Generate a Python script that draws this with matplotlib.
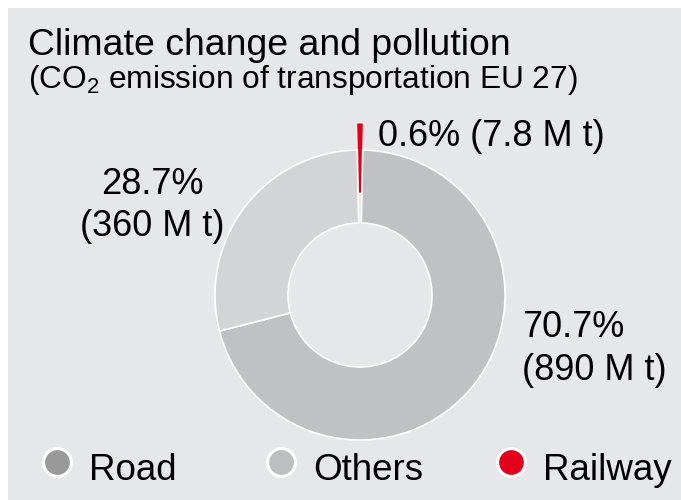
import matplotlib
matplotlib.use("Agg")
import matplotlib.pyplot as plt
from matplotlib.patches import Rectangle

plt.rcParams['font.family'] = ['Liberation Sans', 'DejaVu Sans']
plt.rcParams['mathtext.fontset'] = 'custom'
plt.rcParams['mathtext.rm'] = 'Liberation Sans'
plt.rcParams['mathtext.default'] = 'regular'

# -------------------------
# Data
# -------------------------
categories = ["Railway", "Road", "Others"]
shares = [0.6, 70.7, 28.7]            # percent
tonnes = ["7.8", "890", "360"]        # M t
wedge_colors = ["#e2001a", "#c0c1c3", "#d3d4d6"]
legend_order = ["Road", "Others", "Railway"]
legend_colors = {"Road": "#999999", "Others": "#bdbec0", "Railway": "#e2001a"}

W, H = 681, 500
fig = plt.figure(figsize=(W / 100, H / 100), dpi=100)
fig.patch.set_facecolor("white")

# axes in pixel units (y up)
ax = fig.add_axes([0, 0, 1, 1])

# -------------------------
# Donut
# -------------------------
cx, cy, r = 360, 205, 145
start = 90 + shares[0] / sum(shares) * 360 / 2
wedges, _ = ax.pie(shares, colors=wedge_colors, startangle=start, counterclock=False,
                   center=(cx, cy), radius=r, frame=True,
                   wedgeprops=dict(width=73, edgecolor="white", linewidth=1.2))
# railway slice sticks out of the ring
wedges[0].set_radius(172)
wedges[0].set_width(70)
wedges[0].set_linewidth(0.6)
ax.set_xlim(0, W)
ax.set_ylim(0, H)
ax.set_aspect("auto")
ax.axis("off")

# grey panel
ax.add_patch(Rectangle((8, 0), W - 8, H - 8, facecolor="#e6e7e8", edgecolor="none", zorder=0))

# -------------------------
# Texts
# -------------------------
ax.text(28, 445, "Climate change and pollution", fontsize=26.9, va="baseline", ha="left")
ax.text(28, 412, "(CO$_2$ emission of transportation EU 27)", fontsize=22.8, va="baseline", ha="left")

ax.text(378, 354, f"{shares[0]}% ({tonnes[0]} M t)", fontsize=26, va="baseline", ha="left")
ax.text(152, 306, f"{shares[2]}%", fontsize=26, va="baseline", ha="center")
ax.text(152, 264, f"({tonnes[2]} M t)", fontsize=26, va="baseline", ha="center")
ax.text(522, 163, f"{shares[1]}%", fontsize=26, va="baseline", ha="left")
ax.text(522, 120, f"({tonnes[1]} M t)", fontsize=26, va="baseline", ha="left")

# legend
leg_x = [57, 281, 511]
for name, lx in zip(legend_order, leg_x):
    ax.scatter([lx], [38], s=400, color=legend_colors[name], edgecolors="white", linewidths=2.2, zorder=3)
    ax.text(lx + 32, 20, name, fontsize=26.5, va="baseline", ha="left")

fig.savefig("out.png", dpi=100, facecolor=fig.get_facecolor())
